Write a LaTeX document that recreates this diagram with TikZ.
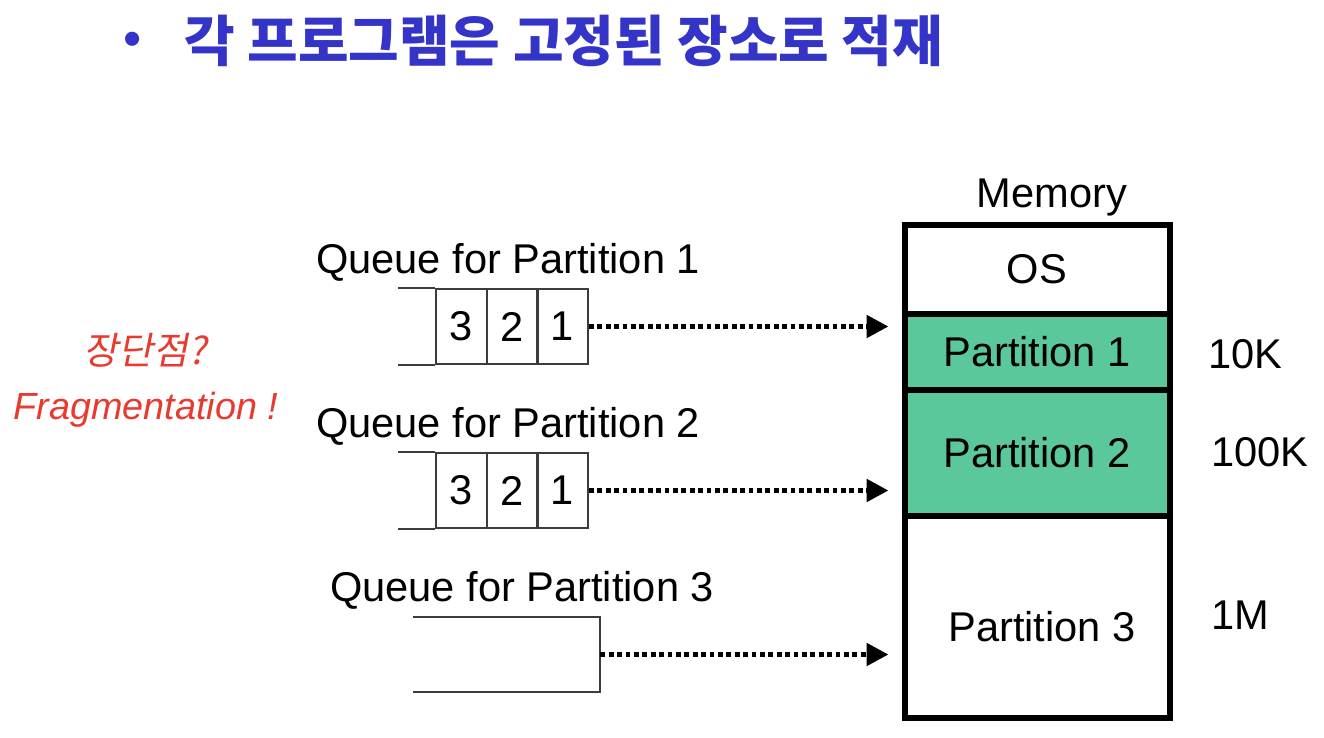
\documentclass[tikz,border=0pt]{standalone}
\usepackage{fontspec}
\setmainfont{Liberation Sans}
\newfontfamily\kr{Noto Sans CJK KR}
\newfontfamily\krit{Noto Sans CJK KR}[FakeSlant=0.2]
\usetikzlibrary{arrows.meta}
\definecolor{titleblue}{RGB}{52,52,200}
\definecolor{notered}{RGB}{232,58,46}
\definecolor{partgreen}{RGB}{91,200,155}
\definecolor{qgray}{RGB}{60,60,60}
\tikzset{
  lbl/.style={inner sep=0pt, font=\fontsize{20.8}{24}\selectfont},
  cell/.style={draw=qgray, line width=1pt, inner sep=0pt, minimum width=25.5pt,
    minimum height=37.5pt, font=\fontsize{20.8}{24}\selectfont},
  qline/.style={draw=qgray, line width=1pt},
  mem/.style={draw=black, line width=3pt, minimum width=132.5pt, inner sep=0pt,
    font=\fontsize{20.8}{24}\selectfont},
  feed/.style={line width=2.6pt, dash pattern=on 2.4pt off 1.8pt,
    -{Triangle[length=11pt,width=11pt]}, shorten >=6.5pt},
  redtxt/.style={inner sep=0pt, text=notered, font=\fontsize{18.9}{22}\selectfont}
}
\begin{document}
\begin{tikzpicture}[x=0.5pt,y=-0.5pt]
\useasboundingbox (0,0) rectangle (1324,738);

% heading
\node[inner sep=0pt, text=titleblue, font=\fontsize{26}{28}\selectfont] (bullet) at (133,44) {•};
\node[anchor=west, inner sep=0pt, text=titleblue, font=\kr\bfseries\fontsize{27.5}{32}\selectfont]
  (title) at (184,41) {각 프로그램은 고정된 장소로 적재};

% side remark
\node[redtxt, font=\krit\fontsize{18.9}{22}\selectfont] (pros) at (145,350) {장단점?};
\node[redtxt, font=\itshape\fontsize{18.9}{22}\selectfont] (frag) at (146,410) {Fragmentation !};

% memory layout
\node[lbl] (memlbl) at (1052,198) {Memory};
\node[mem, fill=white, minimum height=44.5pt] (os) at (1037,269.5) {OS};
\node[mem, fill=white, minimum height=101pt] (p3) at (1037,617) {};
\node[mem, fill=partgreen, minimum height=63pt] (p2) at (1037,453) {Partition 2};
\node[mem, fill=partgreen, minimum height=38pt] (p1) at (1037,352) {Partition 1};
\node[lbl] (p3lbl) at (1042,627) {Partition 3};

\node[lbl] (s1) at (1245,354) {10K};
\node[lbl] (s2) at (1260,452) {100K};
\node[lbl] (s3) at (1240,615) {1M};

% queue 1
\node[lbl] (q1lbl) at (508,262) {Queue for Partition 1};
\node[cell] (q1c3) at (461.5,326.5) {3};
\node[cell] (q1c2) at (512,326.5) {2};
\node[cell] (q1c1) at (562.5,326.5) {1};
\draw[qline] (q1c3.north west) -- ++(-37,0);
\draw[qline] (q1c3.south west) -- ++(-37,0);
\draw[feed] (q1c1.east) -- (q1c1.east -| p1.west);

% queue 2
\node[lbl] (q2lbl) at (508,426) {Queue for Partition 2};
\node[cell] (q2c3) at (461.5,490.5) {3};
\node[cell] (q2c2) at (512,490.5) {2};
\node[cell] (q2c1) at (562.5,490.5) {1};
\draw[qline] (q2c3.north west) -- ++(-37,0);
\draw[qline] (q2c3.south west) -- ++(-37,0);
\draw[feed] (q2c1.east) -- (q2c1.east -| p2.west);

% queue 3
\node[lbl] (q3lbl) at (522,590) {Queue for Partition 3};
\node[inner sep=0pt, minimum width=93.5pt, minimum height=37.5pt] (q3) at (506.5,654.5) {};
\draw[qline] (q3.north west) -- (q3.north east) -- (q3.south east) -- (q3.south west);
\draw[feed] (q3.east) -- (q3.east -| p3.west);
\end{tikzpicture}
\end{document}
